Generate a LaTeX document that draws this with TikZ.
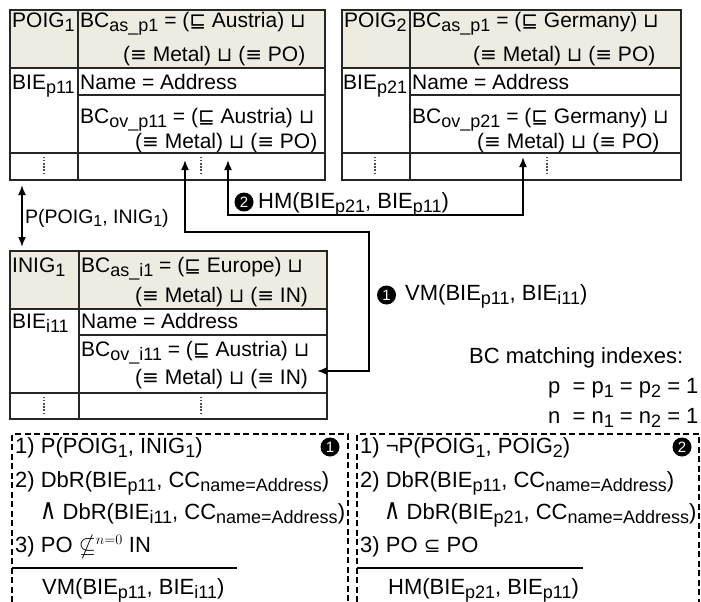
\documentclass[tikz,border=0pt]{standalone}
\usepackage{amssymb}
\usepackage{graphicx}
\usepackage{fontspec}
\setmainfont{Liberation Sans}
\newfontfamily\symf{DejaVu Sans}
\usetikzlibrary{arrows.meta}
\definecolor{hdr}{HTML}{EEECE1}
\newcommand\lo[1]{\raisebox{-4pt}{\fontsize{18}{18}\selectfont #1}}
\newcommand\loo[1]{\raisebox{-4pt}{\fontsize{18}{18}\selectfont #1}}
\newcommand\lop[1]{\raisebox{-3.5pt}{\fontsize{16}{16}\selectfont #1}}
\newcommand\mySq{{\symf\fontsize{20}{20}\selectfont ⊑}}
\newcommand\myLub{{\symf\fontsize{20}{20}\selectfont ⊔}}
\newcommand\myEq{{\symf\fontsize{20}{20}\selectfont ≡}}
\newcommand\myAnd{\scalebox{1.12}[1.45]{\symf\fontsize{20}{20}\selectfont ∧}}
\newcommand\mySub{{\symf\fontsize{20}{20}\selectfont ⊆}}
\begin{document}
\begin{tikzpicture}[x=1pt,y=-1pt,
  txt/.style={anchor=base west, inner sep=0pt, font=\fontsize{21}{24}\selectfont},
  big/.style={anchor=base west, inner sep=0pt, font=\fontsize{22}{24}\selectfont},
  small/.style={anchor=base west, inner sep=0pt, font=\fontsize{19.5}{24}\selectfont},
  num/.style={circle, fill=black, text=white, inner sep=0pt, minimum size=19pt, font=\fontsize{15}{15}\selectfont},
  tline/.style={line width=1.2pt, draw=black!85},
  conn/.style={line width=1.7pt, {Latex[length=10pt,width=8pt]}-{Latex[length=10pt,width=8pt]}},
  vdots/.style={line width=1.3pt, dash pattern=on 1.3pt off 1.8pt, draw=black!70},
  dbox/.style={line width=1.5pt, dash pattern=on 6pt off 3.5pt},
  rule/.style={line width=1.3pt}]
\useasboundingbox (0,0) rectangle (701,602);
\clip (0,0) rectangle (701,602);
% ---------- Table 1 ----------
\fill[hdr] (10,10) rectangle (325,68);
\draw[tline] (10,10) rectangle (325,180);
\draw[tline] (78,10) -- (78,180);
\draw[tline] (10,68) -- (325,68);
\draw[tline] (78,95) -- (325,95);
\draw[tline] (10,153) -- (325,153);
\draw[vdots] (44,157) -- (44,175);
\draw[vdots] (201,157) -- (201,175);
\node[txt] (t1a) at (12,28) {POIG\lo{1}};
\node[txt] (t1b) at (80,28) {BC\lo{as\_p1} = (\mySq{} Austria) \myLub};
\node[txt] (t1c) at (123,62) {(\myEq{} Metal) \myLub{} (\myEq{} PO)};
\node[txt] (t1d) at (12,89) {BIE\lo{p11}};
\node[txt] (t1e) at (80,89) {Name = Address};
\node[txt] (t1f) at (80,123) {BC\lo{ov\_p11} = (\mySq{} Austria) \myLub};
\node[txt] (t1g) at (135,148) {(\myEq{} Metal) \myLub{} (\myEq{} PO)};
% ---------- Table 2 ----------
\fill[hdr] (342,10) rectangle (681,68);
\draw[tline] (342,10) rectangle (681,180);
\draw[tline] (410,10) -- (410,180);
\draw[tline] (342,68) -- (681,68);
\draw[tline] (410,95) -- (681,95);
\draw[tline] (342,153) -- (681,153);
\draw[vdots] (375,157) -- (375,175);
\draw[vdots] (547,157) -- (547,175);
\node[txt] (t2a) at (344,28) {POIG\lo{2}};
\node[txt] (t2b) at (412,28) {BC\lo{as\_p1} = (\mySq{} Germany) \myLub};
\node[txt] (t2c) at (473,62) {(\myEq{} Metal) \myLub{} (\myEq{} PO)};
\node[txt] (t2d) at (343,89) {BIE\lo{p21}};
\node[txt] (t2e) at (412,89) {Name = Address};
\node[txt] (t2f) at (412,123) {BC\lo{ov\_p21} = (\mySq{} Germany) \myLub};
\node[txt] (t2g) at (477,148) {(\myEq{} Metal) \myLub{} (\myEq{} PO)};
% ---------- Table 3 ----------
\fill[hdr] (10,251) rectangle (327,309);
\draw[tline] (10,251) rectangle (327,419);
\draw[tline] (79,251) -- (79,419);
\draw[tline] (10,309) -- (327,309);
\draw[tline] (79,335) -- (327,335);
\draw[tline] (10,393) -- (327,393);
\draw[vdots] (44,397) -- (44,415);
\draw[vdots] (201,397) -- (201,415);
\node[txt] (t3a) at (12,272) {INIG\lo{1}};
\node[txt] (t3b) at (81,272) {BC\lo{as\_i1} = (\mySq{} Europe) \myLub};
\node[txt] (t3c) at (135,302) {(\myEq{} Metal) \myLub{} (\myEq{} IN)};
\node[txt] (t3d) at (12,328) {BIE\lo{i11}};
\node[txt] (t3e) at (81,328) {Name = Address};
\node[txt] (t3f) at (81,356) {BC\lo{ov\_i11} = (\mySq{} Austria) \myLub};
\node[txt] (t3g) at (135,384) {(\myEq{} Metal) \myLub{} (\myEq{} IN)};
% ---------- Connectors ----------
\coordinate (pA) at (22,185);
\coordinate (pB) at (22,247);
\draw[conn] (pA) -- (pB);
\node[small] (plab) at (25,223) {P(POIG\lop{1}, INIG\lop{1})};
\coordinate (vmA) at (185,160);
\coordinate (vmK) at (369,232);
\coordinate (vmB) at (317,371);
\draw[conn] (vmA) |- (vmK) |- (vmB);
\coordinate (hmA) at (228,160);
\coordinate (hmK) at (523,215);
\coordinate (hmB) at (523,157);
\draw[conn] (hmA) |- (hmK) -- (hmB);
\node[num] (hmn) at (244,202) {2};
\node[big] (hmlab) at (258,208) {HM(BIE\loo{p21}, BIE\loo{p11})};
\node[num] (vmn) at (386.5,295) {1};
\node[big] (vmlab) at (405,300) {VM(BIE\loo{p11}, BIE\loo{i11})};
\node[big] (bcm) at (469,363) {BC matching indexes:};
\node[big] (bcp) at (548,393) {p~~= p\loo{1} = p\loo{2} = 1};
\node[big] (bcn) at (548,423) {n~~= n\loo{1} = n\loo{2} = 1};
% ---------- Rule boxes ----------
\draw[dbox] (12,640) -- (12,434) -- (348,434) -- (348,640);
\draw[dbox] (357,640) -- (357,434) -- (699,434) -- (699,640);
\node[num] (r1n) at (330,447) {1};
\node[num] (r2n) at (682,447) {2};
\node[big] (r1a) at (15,453) {1) P(POIG\loo{1}, INIG\loo{1})};
\node[big] (r1b) at (15,487) {2) DbR(BIE\loo{p11}, CC\loo{name=Address})};
\node[big] (r1c) at (40,519) {\myAnd{} DbR(BIE\loo{i11}, CC\loo{name=Address})};
\node[big] (r1d) at (15,552) {3) PO $\nsubseteq^{n=0}$ IN};
\draw[rule] (12,568) -- (237,568);
\node[big] (r1e) at (42,594) {VM(BIE\loo{p11}, BIE\loo{i11})};
\node[big] (r2a) at (360,453) {1) ¬P(POIG\loo{1}, POIG\loo{2})};
\node[big] (r2b) at (360,487) {2) DbR(BIE\loo{p11}, CC\loo{name=Address})};
\node[big] (r2c) at (384,519) {\myAnd{} DbR(BIE\loo{p21}, CC\loo{name=Address})};
\node[big] (r2d) at (360,552) {3) PO \mySub{} PO};
\draw[rule] (357,568) -- (583,568);
\node[big] (r2e) at (388,594) {HM(BIE\loo{p21}, BIE\loo{p11})};
\end{tikzpicture}
\end{document}
